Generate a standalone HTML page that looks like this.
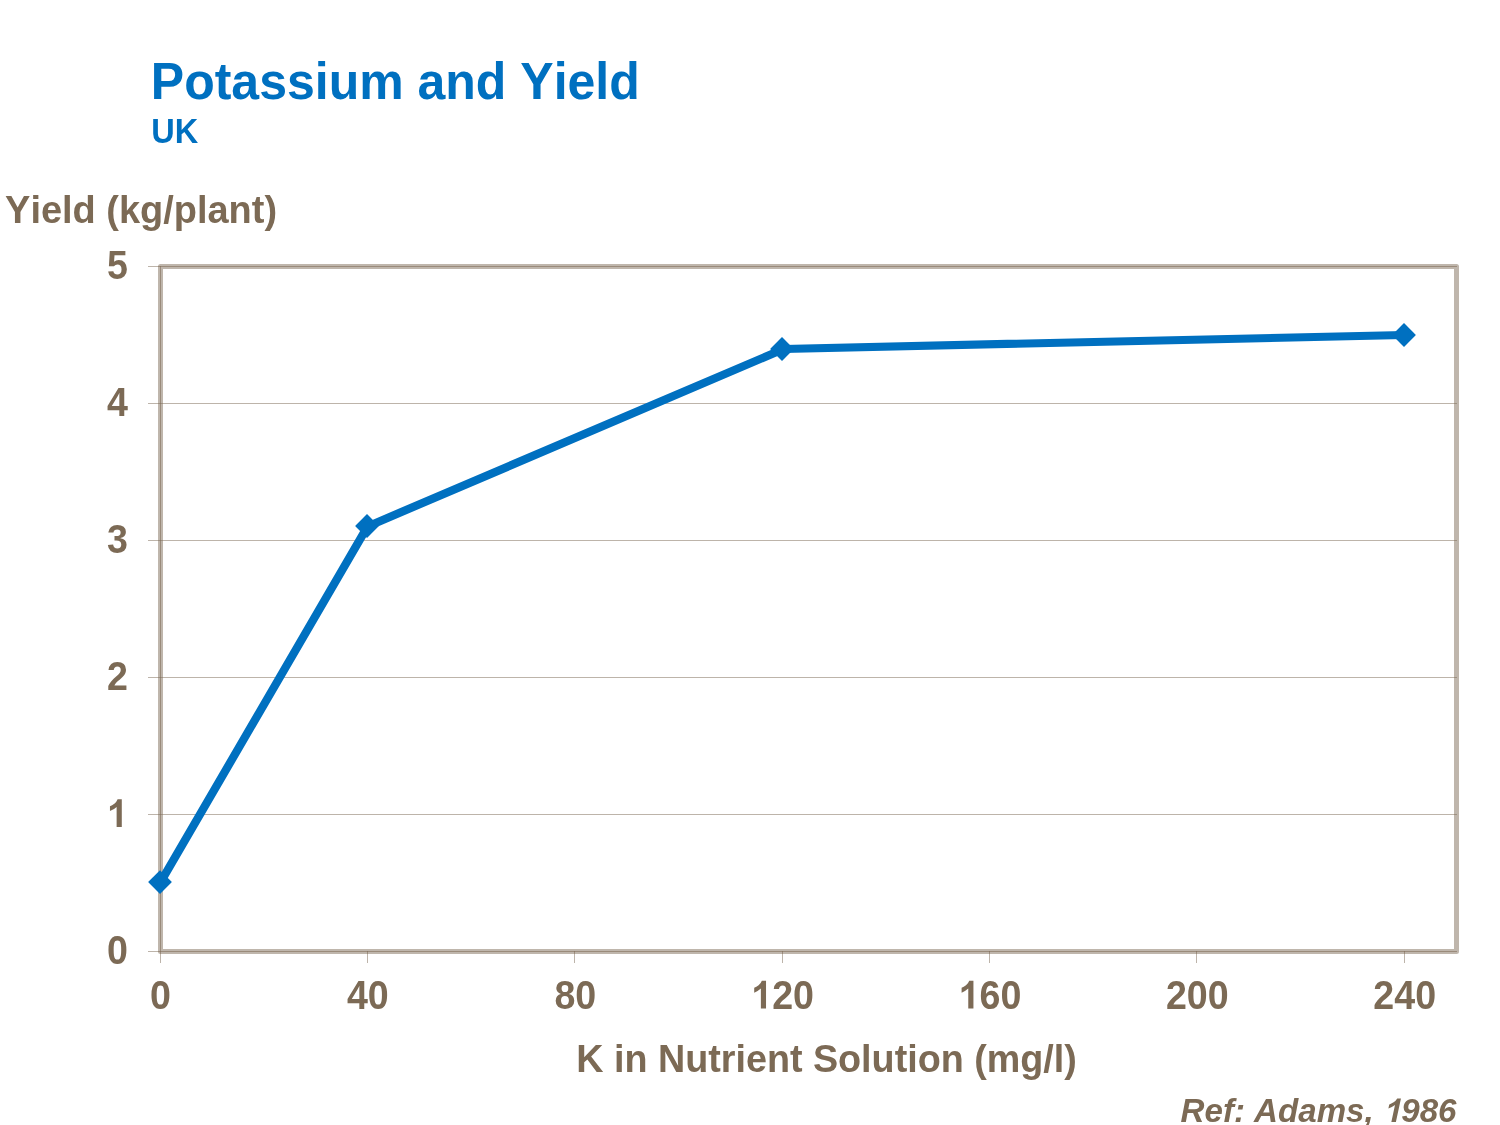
<!DOCTYPE html>
<html>
<head>
<meta charset="utf-8">
<title>Potassium and Yield</title>
<style>
html,body{margin:0;padding:0;background:#fff;}
body{width:1500px;height:1125px;overflow:hidden;font-family:"Liberation Sans",sans-serif;}
svg{display:block;position:absolute;left:0;top:0;will-change:transform;}
text{font-family:"Liberation Sans",sans-serif;font-weight:bold;font-kerning:none;}
.t{fill:#0070c0;}
.b{fill:#7c6a55;}
</style>
</head>
<body>
<svg width="1500" height="1125" viewBox="0 0 1500 1125">
  <rect x="0" y="0" width="1500" height="1125" fill="#ffffff"/>
  <!-- titles -->
  <text class="t" transform="translate(150.8,99.4) scale(1,1.03)" font-size="50.0" text-anchor="start">Potassium and Yield</text>
  <text class="t" transform="translate(151.2,143.05) scale(1,1.07)" font-size="32.5" text-anchor="start">UK</text>
  <text class="b" transform="translate(5.1,223.2) scale(1,1.02)" font-size="37.95" text-anchor="start">Yield (kg/plant)</text>

  <!-- plot border -->
  <rect x="160.5" y="266.5" width="1296" height="685" fill="none" stroke="#7c6a55" stroke-opacity="0.49" stroke-width="5" stroke-linejoin="round"/>
  <!-- gridlines + ticks -->
  <g stroke="#7c6a55" stroke-opacity="0.5" stroke-width="1" shape-rendering="crispEdges">
    <line x1="148" y1="266.5" x2="158" y2="266.5"/>
    <line x1="148" y1="403.5" x2="1457" y2="403.5"/>
    <line x1="148" y1="540.5" x2="1457" y2="540.5"/>
    <line x1="148" y1="677.5" x2="1457" y2="677.5"/>
    <line x1="148" y1="814.5" x2="1457" y2="814.5"/>
    <line x1="148" y1="951.5" x2="158" y2="951.5"/>
    <line x1="160.5" y1="954" x2="160.5" y2="963"/>
    <line x1="367.5" y1="954" x2="367.5" y2="963"/>
    <line x1="574.5" y1="954" x2="574.5" y2="963"/>
    <line x1="782.5" y1="954" x2="782.5" y2="963"/>
    <line x1="989.5" y1="954" x2="989.5" y2="963"/>
    <line x1="1196.5" y1="954" x2="1196.5" y2="963"/>
    <line x1="1404.5" y1="954" x2="1404.5" y2="963"/>
  </g>
  <!-- axis lines over border -->
  <g stroke="#7c6a55" stroke-opacity="0.56" stroke-width="1" shape-rendering="crispEdges">
    <line x1="158" y1="266.5" x2="1457" y2="266.5"/>
    <line x1="158" y1="951.5" x2="1457" y2="951.5"/>
    <line x1="160.5" y1="266" x2="160.5" y2="954"/>
    <line x1="367.5" y1="951" x2="367.5" y2="954"/>
    <line x1="574.5" y1="951" x2="574.5" y2="954"/>
    <line x1="782.5" y1="951" x2="782.5" y2="954"/>
    <line x1="989.5" y1="951" x2="989.5" y2="954"/>
    <line x1="1196.5" y1="951" x2="1196.5" y2="954"/>
    <line x1="1404.5" y1="951" x2="1404.5" y2="954"/>
  </g>

  <!-- y labels -->
  <text class="b" transform="translate(106.989,279.05) scale(1,1.07)" font-size="37.6" text-anchor="start">5</text>
  <text class="b" transform="translate(106.989,416.05) scale(1,1.07)" font-size="37.6" text-anchor="start">4</text>
  <text class="b" transform="translate(106.989,553.05) scale(1,1.07)" font-size="37.6" text-anchor="start">3</text>
  <text class="b" transform="translate(106.989,690.05) scale(1,1.07)" font-size="37.6" text-anchor="start">2</text>
  <path class="b" transform="matrix(0.018359 0 0.000000 -0.018881 106.989 827.050)" d="M806 0H525V1059Q371 915 162 846V1101Q272 1137 401 1237.5Q530 1338 578 1472H806Z"/>
  <text class="b" transform="translate(106.989,964.05) scale(1,1.07)" font-size="37.6" text-anchor="start">0</text>
  <!-- x labels -->
  <text class="b" transform="translate(150.044,1008.6) scale(1,1.07)" font-size="37.6" text-anchor="start">0</text>
  <text class="b" transform="translate(346.889,1008.6) scale(1,1.07)" font-size="37.6" text-anchor="start">40</text>
  <text class="b" transform="translate(554.389,1008.6) scale(1,1.07)" font-size="37.6" text-anchor="start">80</text>
  <path class="b" transform="matrix(0.018359 0 0.000000 -0.018881 751.233 1008.600)" d="M806 0H525V1059Q371 915 162 846V1101Q272 1137 401 1237.5Q530 1338 578 1472H806Z"/>
  <text class="b" transform="translate(772.144,1008.6) scale(1,1.07)" font-size="37.6" text-anchor="start">20</text>
  <path class="b" transform="matrix(0.018359 0 0.000000 -0.018881 958.633 1008.600)" d="M806 0H525V1059Q371 915 162 846V1101Q272 1137 401 1237.5Q530 1338 578 1472H806Z"/>
  <text class="b" transform="translate(979.544,1008.6) scale(1,1.07)" font-size="37.6" text-anchor="start">60</text>
  <text class="b" transform="translate(1165.933,1008.6) scale(1,1.07)" font-size="37.6" text-anchor="start">200</text>
  <text class="b" transform="translate(1373.333,1008.6) scale(1,1.07)" font-size="37.6" text-anchor="start">240</text>
  <text class="b" transform="translate(826.55,1072) scale(1,1.02)" font-size="37.72" text-anchor="middle">K in Nutrient Solution (mg/l)</text>
  <text class="b" transform="translate(1382.865,1122.0) scale(1,1.03)" font-size="33.1" text-anchor="end" font-style="italic" xml:space="preserve">Ref: Adams,&#160;</text>
  <path class="b" transform="matrix(0.016162 0 0.003436 -0.016000 1382.865 1122.000)" d="M806 0H525V1059Q371 915 162 846V1101Q272 1137 401 1237.5Q530 1338 578 1472H806Z"/>
  <text class="b" transform="translate(1401.274,1122.0) scale(1,1.03)" font-size="33.1" text-anchor="start" font-style="italic">986</text>

  <!-- data line -->
  <polyline points="160.6,882.1 367.6,526.4 783.6,349.0 1404,335.0" fill="none" stroke="#0070c0" stroke-width="8.2" stroke-linejoin="round"/>
  <g fill="#0070c0">
    <path d="M160,870.2 l11.9,11.9 l-11.9,11.9 l-11.9,-11.9z"/>
    <path d="M367,514.1 l11.9,11.9 l-11.9,11.9 l-11.9,-11.9z"/>
    <path d="M782,337.1 l11.9,11.9 l-11.9,11.9 l-11.9,-11.9z"/>
    <path d="M1404,323.1 l11.9,11.9 l-11.9,11.9 l-11.9,-11.9z"/>
  </g>
</svg>
</body>
</html>
